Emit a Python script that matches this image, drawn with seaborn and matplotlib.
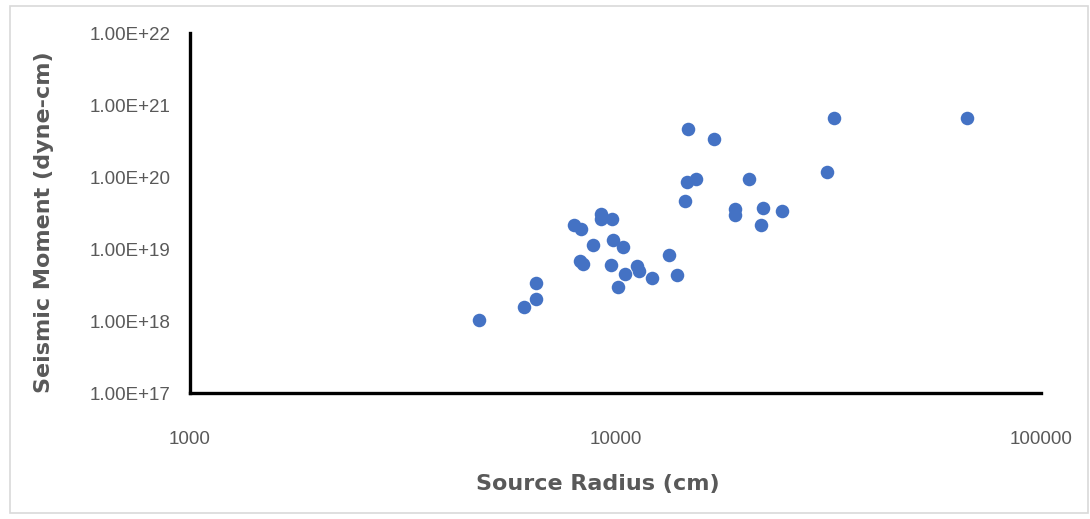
import matplotlib
matplotlib.use("Agg")
import matplotlib.pyplot as plt
from matplotlib.ticker import FuncFormatter, FixedLocator, NullLocator
from matplotlib.patches import Rectangle
import seaborn as sns
import pandas as pd

source_radius_cm = [4786, 6106, 6505, 6500, 7988, 8311, 8254, 8401, 8841, 9246,
                    9246, 9813, 9866, 10397, 9744, 10136, 10527, 11214, 11337, 12206,
                    13357, 13972, 14780, 14565, 14747, 15460, 17015, 20560, 19055, 19055,
                    22255, 21980, 24660, 32630, 67120, 31350]
seismic_moment = [1.03e18, 1.58e18, 2.02e18, 3.34e18, 2.13e19, 1.91e19, 6.81e18, 6.19e18, 1.15e19, 3.06e19,
                  2.59e19, 2.61e19, 1.33e19, 1.08e19, 6.05e18, 2.94e18, 4.54e18, 5.81e18, 5.0e18, 3.92e18,
                  8.26e18, 4.31e18, 4.6e20, 4.6e19, 8.5e19, 9.4e19, 3.37e20, 9.47e19, 3.56e19, 2.99e19,
                  3.67e19, 2.13e19, 3.34e19, 6.53e20, 6.53e20, 1.17e20]
x_ticks = [1000, 10000, 100000]
y_ticks = [1e17, 1e18, 1e19, 1e20, 1e21, 1e22]

df = pd.DataFrame({"Source Radius (cm)": source_radius_cm,
                   "Seismic Moment (dyne-cm)": seismic_moment})

sns.set_theme(style="white")
plt.rcParams["font.family"] = ["Liberation Sans", "DejaVu Sans"]

fig = plt.figure(figsize=(10.9, 5.19), dpi=100)
ax = fig.add_axes([190/1090, 1-393/519, (1041-190)/1090, (393-33)/519])

sns.scatterplot(data=df, x="Source Radius (cm)", y="Seismic Moment (dyne-cm)",
                ax=ax, color="#4472C4", s=95, edgecolor="#4472C4", linewidth=0, zorder=3)

ax.set_xscale("log")
ax.set_yscale("log")
ax.set_xlim(1000, 100000)
ax.set_ylim(1e17, 1e22)
ax.xaxis.set_major_locator(FixedLocator(x_ticks))
ax.yaxis.set_major_locator(FixedLocator(y_ticks))
ax.xaxis.set_minor_locator(NullLocator())
ax.yaxis.set_minor_locator(NullLocator())
ax.xaxis.set_major_formatter(FuncFormatter(lambda v, p: f"{int(round(v))}"))
ax.yaxis.set_major_formatter(FuncFormatter(lambda v, p: f"{v:.2E}"))

for side in ["top", "right"]:
    ax.spines[side].set_visible(False)
for side in ["left", "bottom"]:
    ax.spines[side].set_color("black")
    ax.spines[side].set_linewidth(2.4)

ax.tick_params(axis="both", length=0, colors="#595959", labelsize=13.5)
ax.tick_params(axis="x", pad=27)
ax.tick_params(axis="y", pad=14)

ax.set_xlabel("Source Radius (cm)", fontsize=16, fontweight="bold", color="#595959",
              family=["DejaVu Sans"])
ax.set_ylabel("Seismic Moment (dyne-cm)", fontsize=16, fontweight="bold", color="#595959",
              family=["DejaVu Sans"])
ax.xaxis.set_label_coords((598-190)/851, (393-484)/360)
ax.xaxis.label.set_verticalalignment("center")
ax.yaxis.set_label_coords((44-190)/851, (393-222)/360)
ax.yaxis.label.set_verticalalignment("center")
ax.grid(False)

fig.patches.append(Rectangle((10/1090, 6/519), 1 - 12/1090, 1 - 12/519, transform=fig.transFigure,
                             fill=False, edgecolor="#D9D9D9", linewidth=1.2))

fig.savefig("out.png", dpi=100)
